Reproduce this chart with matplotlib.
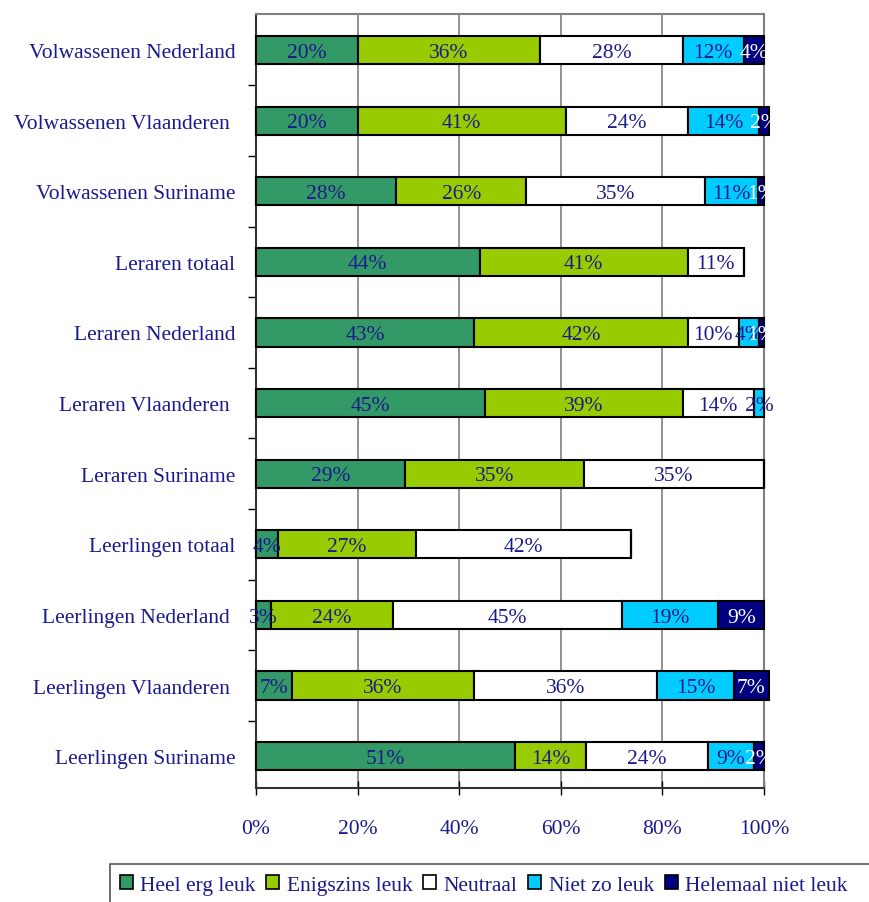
import matplotlib
matplotlib.use("Agg")
import matplotlib.pyplot as plt
from matplotlib.patches import Rectangle
import numpy as np

plt.rcParams['font.family'] = ['Liberation Serif', 'DejaVu Serif']

# categories (top to bottom)
categories = [
    "Volwassenen Nederland",
    "Volwassenen Vlaanderen ",
    "Volwassenen Suriname",
    "Leraren totaal",
    "Leraren Nederland",
    "Leraren Vlaanderen ",
    "Leraren Suriname",
    "Leerlingen totaal",
    "Leerlingen Nederland ",
    "Leerlingen Vlaanderen ",
    "Leerlingen Suriname",
]

series_names = ["Heel erg leuk", "Enigszins leuk", "Neutraal", "Niet zo leuk", "Helemaal niet leuk"]

heel_erg_leuk = [20, 20, 27.6, 44, 43, 45, 29.4, 4.3, 3, 7, 51]
enigszins_leuk = [36, 41, 25.6, 41, 42, 39, 35.2, 27.2, 24, 36, 14]
neutraal = [28, 24, 35.1, 11, 10, 14, 35.4, 42.4, 45, 36, 24]
niet_zo_leuk = [12, 14, 10.6, 0, 4, 2, 0, 0, 19, 15, 9]
helemaal_niet_leuk = [4, 2, 1.1, 0, 1, 0, 0, 0, 9, 7, 2]

colors = ["#339966", "#99CC00", "#FFFFFF", "#00CCFF", "#000080"]
navy = "#1a1a8c"
text_colors = [navy, navy, navy, navy, "#FFFFFF"]

data = [heel_erg_leuk, enigszins_leuk, neutraal, niet_zo_leuk, helemaal_niet_leuk]

fig = plt.figure(figsize=(8.7, 9.03), dpi=100)
ax = fig.add_axes([256 / 870, 1 - 789 / 903, 508 / 870, (789 - 15) / 903])

y = np.arange(len(categories))
left = np.zeros(len(categories))
for name, vals, c, tc in zip(series_names, data, colors, text_colors):
    vals = np.array(vals, dtype=float)
    bars = ax.barh(y, vals, left=left, height=0.40, color=c, edgecolor="black",
                   linewidth=1.5, label=name, zorder=3)
    for b in bars:
        b.set_clip_on(False)
    for yi, l, v in zip(y, left, vals):
        if v > 0:
            ax.text(l + v / 2, yi + 0.03, f"{int(round(v))}%", ha="center", va="center",
                    color=tc, fontsize=15.5, zorder=4, clip_on=False)
    left += vals

ax.set_xlim(0, 100)
ax.set_ylim(10.45, -0.51)
ax.set_xticks([0, 20, 40, 60, 80, 100])
ax.set_xticklabels([f"{v}%" for v in [0, 20, 40, 60, 80, 100]], fontsize=15.5)
ax.tick_params(axis="x", direction="inout", length=10, width=1, pad=17, colors="black",
               labelcolor=navy)
ax.set_yticks(y)
ax.set_yticklabels(categories, color=navy, fontsize=15.5)
ax.tick_params(axis="y", length=0, pad=15)
ax.set_yticks(np.arange(0.5, 10.5, 1), minor=True)
ax.tick_params(axis="y", which="minor", length=6, width=1, color="black")

ax.grid(axis="x", color="#808080", linewidth=1.2, zorder=0)
ax.spines["top"].set_color("#808080")
ax.spines["right"].set_color("#808080")
ax.spines["top"].set_linewidth(1.5)
ax.spines["right"].set_linewidth(1.5)
ax.spines["left"].set_linewidth(1.5)
ax.spines["bottom"].set_linewidth(1.5)
ax.spines["left"].set_color("#333333")
ax.spines["bottom"].set_color("#333333")

# legend box runs off the right and bottom edge like the original
fig.patches.append(Rectangle((110 / 870, -0.05), 0.9, 0.05 + (903 - 865) / 903,
                             transform=fig.transFigure, facecolor="none",
                             edgecolor="#555555", linewidth=1.2))
leg = fig.legend(loc="center left", bbox_to_anchor=(110 / 870, 1 - 886 / 903), ncol=5,
                 fontsize=15.5, handlelength=0.6, handleheight=0.6, handletextpad=0.35,
                 columnspacing=0.5, frameon=False, borderpad=0.45,
                 borderaxespad=0, labelcolor=navy)
for h in leg.legend_handles:
    h.set_linewidth(1.2)

fig.savefig("out.png", dpi=100)
